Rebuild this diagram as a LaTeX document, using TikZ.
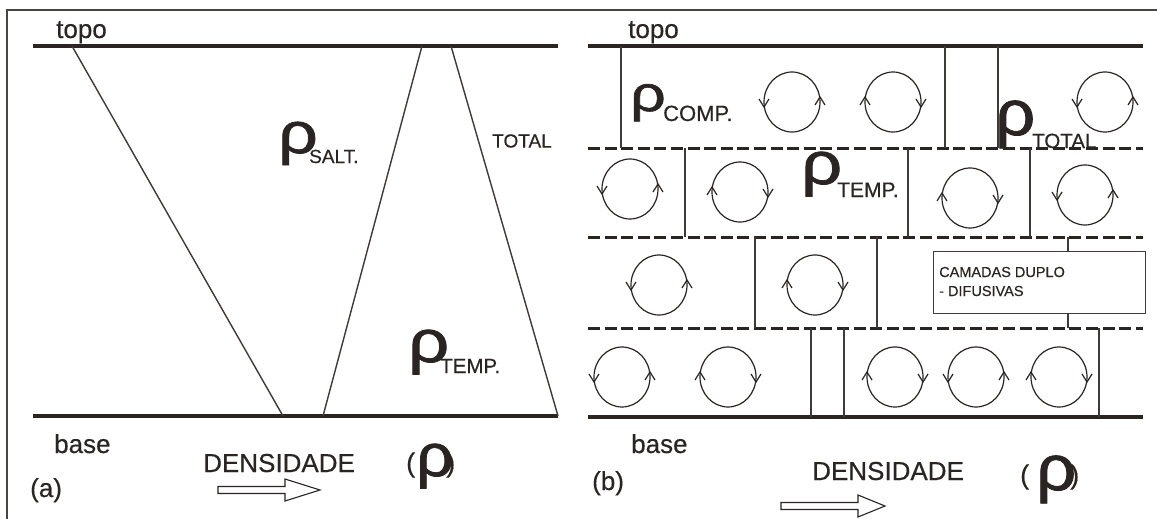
\documentclass[tikz,border=0pt]{standalone}
\usepackage{fontspec}
\setmainfont{Liberation Sans}[FakeBold=0.4]
\newfontfamily\rhofont{Liberation Sans}[FakeBold=1.2]
\definecolor{ink}{HTML}{2A2422}
\begin{document}
\begin{tikzpicture}[x=1pt,y=-1pt,
  frame/.style={draw=ink!85,line width=1.4pt},
  layer/.style={draw=ink,line width=4pt},
  interface/.style={draw=ink,line width=3pt,dash pattern=on 12pt off 4.6pt},
  wall/.style={draw=ink!90,line width=1.4pt},
  cellline/.style={draw=ink,line width=1.2pt},
  lbl/.style={text=ink,inner sep=0pt,anchor=base west,font=\fontsize{26}{30}\selectfont},
  sub/.style={text=ink,inner sep=0pt,anchor=base west},
  rho/.style={text=ink,inner sep=0pt,anchor=base west},
  hollow/.style={draw=ink,line width=1.1pt,fill=white,line join=miter},
  cellccw/.pic={
    \draw[cellline] (0,0) ellipse[x radius=28,y radius=30];
    \draw[cellline] (-33,-3) -- (-28,5) -- (-23,-3);
    \draw[cellline] (23,3) -- (28,-5) -- (33,3);},
  cellcw/.pic={
    \draw[cellline] (0,0) ellipse[x radius=28,y radius=30];
    \draw[cellline] (-33,3) -- (-28,-5) -- (-23,3);
    \draw[cellline] (23,-3) -- (28,5) -- (33,-3);}
]
\useasboundingbox (0,0) rectangle (1157,519);
\fill[white] (0,0) rectangle (1157,519);

% outer frame
\draw[frame] (7,519) -- (7,10) -- (1157,10);

% ---------------- panel (a) ----------------
\draw[layer] (33,46) -- (558,46);
\draw[layer] (33,416) -- (558,416);
\draw[wall] (72,46) -- (283,416);
\draw[wall] (422,46) -- (323,416);
\draw[wall] (451,46) -- (558,416);

\node[lbl] (topoA) at (56,38) {topo};
\node[lbl] (baseA) at (54,453) {base};
\node[lbl] (tagA) at (30,497) {(a)};
\node[lbl] (densA) at (203,472) {DENSIDADE};

\node[rho,font=\rhofont\fontsize{58}{58}\selectfont] (rhoSalt) at (278,153) {\scalebox{1.2}[1]{ρ}};
\node[sub,font=\fontsize{19}{22}\selectfont] (subSalt) at (309,163) {SALT.};
\node[text=ink,inner sep=0pt,font=\fontsize{19}{23}\selectfont] (totalA) at (522,141) {TOTAL};
\node[rho,font=\rhofont\fontsize{60}{60}\selectfont] (rhoTempA) at (408,362) {\scalebox{1.2}[1]{ρ}};
\node[sub,font=\fontsize{20.5}{24}\selectfont] (subTempA) at (440,373) {TEMP.};

\node[rho,font=\fontsize{27}{30}\selectfont] (lparA) at (406,472) {(};
\node[rho,font=\rhofont\fontsize{60}{60}\selectfont] (rhoA) at (416,476) {\scalebox{1.1}[1]{ρ}};
\node[rho,font=\fontsize{27}{30}\selectfont] (rparA) at (446,472) {)};

\draw[hollow] (218,486.5) -- (285,486.5) -- (285,479) -- (320,490)
  -- (285,501) -- (285,493.5) -- (218,493.5) -- cycle;

% ---------------- panel (b) ----------------
\draw[layer] (588,46) -- (1143,46);
\draw[layer] (588,417) -- (1143,417);
\draw[interface] (588,148) -- (1143,148);
\draw[interface] (588,237) -- (1143,237);
\draw[interface] (588,328) -- (1143,328);

% cell walls, row by row
\draw[wall] (621,46) -- (621,148);
\draw[wall] (945,46) -- (945,148);
\draw[wall] (998,46) -- (998,148);
\draw[wall] (685,148) -- (685,237);
\draw[wall] (908,148) -- (908,237);
\draw[wall] (1030,148) -- (1030,237);
\draw[wall] (755,237) -- (755,328);
\draw[wall] (877,237) -- (877,328);
\draw[wall] (811,328) -- (811,417);
\draw[wall] (844,328) -- (844,417);
\draw[wall] (1099,328) -- (1099,417);

% double-diffusive layers label
\node[draw=ink!90,line width=1.2pt,inner sep=0pt,minimum width=212pt,minimum height=62pt,anchor=north west] (ddbox) at (933,251) {};
\node[sub,font=\fontsize{14.5}{17}\selectfont] (ddtxt1) at (939,277) {CAMADAS DUPLO};
\node[sub,font=\fontsize{14.5}{17}\selectfont] (ddtxt2) at (939,296) {- DIFUSIVAS};
\draw[wall] (1068,237) -- (ddbox.north -| 1068,0);
\draw[wall] (ddbox.south -| 1068,0) -- (1068,328);

% convection cells
\pic at (792,102) {cellccw};
\pic at (893,102) {cellcw};
\pic at (1105,102) {cellccw};
\pic at (630,189) {cellccw};
\pic at (740,192) {cellcw};
\pic at (970,198) {cellcw};
\pic at (1085,195) {cellccw};
\pic at (659,285) {cellccw};
\pic at (815,285) {cellcw};
\pic at (622,377) {cellccw};
\pic at (728,377) {cellcw};
\pic at (895,377) {cellcw};
\pic at (976,377) {cellccw};
\pic at (1059,377) {cellcw};

\node[rho,font=\rhofont\fontsize{50}{50}\selectfont] (rhoComp) at (630,111) {\scalebox{1.25}[1]{ρ}};
\node[sub,font=\fontsize{22}{26}\selectfont] (subComp) at (663,121) {COMP.};
\node[rho,font=\rhofont\fontsize{60}{60}\selectfont] (rhoTempB) at (801,184) {\scalebox{1.2}[1]{ρ}};
\node[sub,font=\fontsize{21}{25}\selectfont] (subTempB) at (837,197) {TEMP.};
\node[rho,font=\rhofont\fontsize{64}{64}\selectfont] (rhoTotal) at (995,135) {\scalebox{1.1}[1]{ρ}};
\node[sub,font=\fontsize{20.5}{24}\selectfont] (subTotal) at (1032,148) {TOTAL};

\node[lbl] (topoB) at (628,38) {topo};
\node[lbl] (baseB) at (631,453) {base};
\node[lbl] (tagB) at (592,490) {(b)};
\node[lbl] (densB) at (812,480) {DENSIDADE};

\node[rho,font=\fontsize{27}{30}\selectfont] (lparB) at (1020,484) {(};
\node[rho,font=\rhofont\fontsize{64}{64}\selectfont] (rhoB) at (1036,490) {\scalebox{1.1}[1]{ρ}};
\node[rho,font=\fontsize{27}{30}\selectfont] (rparB) at (1070,484) {)};

\draw[hollow] (781,502.5) -- (858,502.5) -- (858,495) -- (885,506)
  -- (858,517) -- (858,509.5) -- (781,509.5) -- cycle;
\end{tikzpicture}
\end{document}
